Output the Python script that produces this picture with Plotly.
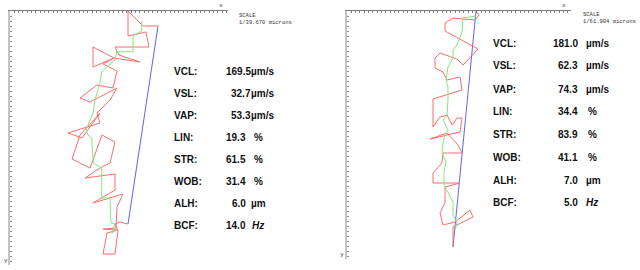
import plotly.graph_objects as go

# ---------------- data (track coordinates in panel units, y downward) ----------------
left_vcl_x = [148, 133, 118, 118, 136, 139, 105, 109, 130, 104, 83, 83, 104, 93, 107, 103, 87, 70, 80, 107,
              100, 87, 90, 58, 72, 90, 70, 62, 80, 92, 105, 100, 90, 75, 105, 105, 83, 113, 107, 106,
              93, 108, 97, 93, 105, 108, 105, 110, 118]
left_vcl_y = [15, 15, 0, 25, 21, 36, 36, 44, 51, 47, 36, 56, 47, 53, 60, 77, 74, 87, 91, 77,
              89, 102, 112, 122, 127, 102, 124, 148, 157, 124, 131, 152, 157, 167, 163, 179, 192, 183, 196, 217,
              218, 219, 222, 243, 243, 220, 213, 211, 213]
left_vap_x = [131.7, 131.7, 123, 123, 106.7, 105, 96.7, 91.7, 90, 85, 83, 76, 78, 81.7, 83.3, 91.7, 91.7, 100,
              101, 105, 101.7, 108]
left_vap_y = [10, 20, 25, 40.7, 40.7, 49, 56, 61, 72, 89, 102, 119, 124, 127, 152, 157, 187, 187,
              212, 213, 222, 218]
left_vsl_x = [148, 118]
left_vsl_y = [15, 213]

right_vcl_x = [129, 132, 128, 106, 98, 98, 109, 131, 116, 110, 93, 88, 88, 96, 100, 108, 113, 115, 86, 86,
               93, 100, 105, 110, 115, 113, 90, 83, 100, 111, 115, 96, 95, 86, 86, 113, 98, 98, 93, 96,
               108, 123, 126, 106, 106]
right_vcl_y = [0, 4, 9, 7, 12, 20, 26, 38, 54, 48, 42, 47, 57, 61, 69, 67, 66, 79, 88, 116,
               106, 104, 114, 107, 107, 121, 126, 128, 122, 134, 142, 142, 152, 162, 172, 172, 176, 192, 202, 214,
               211, 199, 206, 216, 236]
right_vap_x = [129, 116, 115, 110, 106, 106, 101, 99, 101, 101, 100, 96, 101, 98, 96, 95, 99, 97, 97, 101,
               106, 106, 110, 108]
right_vap_y = [5, 7, 21, 34, 39, 47, 56, 69, 76, 89, 104, 109, 119, 124, 132, 142, 151, 161, 174, 182,
               191, 204, 212, 219]
right_vsl_x = [129, 106]
right_vsl_y = [0, 236]

stat_labels = ["VCL:", "VSL:", "VAP:", "LIN:", "STR:", "WOB:", "ALH:", "BCF:"]
stat_units = ["µm/s", "µm/s", "µm/s", "%", "%", "%", "µm", "Hz"]
left_values = ["169.5", "32.7", "53.3", "19.3", "61.5", "31.4", "6.0", "14.0"]
right_values = ["181.0", "62.3", "74.3", "34.4", "83.9", "41.1", "7.0", "5.0"]
left_scale = "1/39.670 microns"
right_scale = "1/61.904 microns"

# ---------------- layout helpers ----------------
W, H = 640, 270
def px(x):
    return x / W
def py(y):
    return 1 - y / H

RED = "#ff6b6b"
GREEN = "#7ee87e"
BLUE = "#6262ee"

fig = go.Figure()
for xs, ys, col, xa, ya in [
    (left_vsl_x, left_vsl_y, BLUE, "x", "y"),
    (left_vcl_x, left_vcl_y, RED, "x", "y"),
    (left_vap_x, left_vap_y, GREEN, "x", "y"),
    (right_vsl_x, right_vsl_y, BLUE, "x2", "y2"),
    (right_vcl_x, right_vcl_y, RED, "x2", "y2"),
    (right_vap_x, right_vap_y, GREEN, "x2", "y2"),
]:
    fig.add_trace(go.Scatter(x=xs, y=ys, mode="lines", line=dict(color=col, width=1),
                             xaxis=xa, yaxis=ya, hoverinfo="skip", showlegend=False,
                             cliponaxis=False))

def xax(domain, rng):
    return dict(domain=domain, range=rng, side="top", showline=True, linecolor="#7a7a7a",
                linewidth=1, ticks="inside", ticklen=2, tickcolor="#7a7a7a", tick0=0,
                dtick=4.33, showticklabels=False, showgrid=False, zeroline=False, fixedrange=True)

def yax(domain, rng, anchor):
    return dict(domain=domain, range=rng, showline=True, linecolor="#c4c4c4", linewidth=2,
                ticks="inside", ticklen=2, tickcolor="#8a8a8a", tick0=0, dtick=5,
                showticklabels=False, showgrid=False, zeroline=False, anchor=anchor, fixedrange=True)

fig.update_layout(
    width=W, height=H, margin=dict(l=0, r=0, t=0, b=0),
    paper_bgcolor="white", plot_bgcolor="white",
    xaxis=xax([px(10), px(228)], [0, 218]) | dict(anchor="y"),
    yaxis=yax([py(265), py(11)], [254, 0], "x"),
    xaxis2=xax([px(347), px(571)], [0, 224]) | dict(anchor="y2"),
    yaxis2=yax([py(259), py(11)], [248, 0], "x2"),
)

ann = []
def add(text, x, y, xanchor="left", size=10, family="Liberation Sans", color="#111", bold=False, italic=False):
    t = text
    if bold:
        t = "<b>" + t + "</b>"
    if italic:
        t = "<i>" + t + "</i>"
    ann.append(dict(text=t, x=px(x), y=py(y), xref="paper", yref="paper", xanchor=xanchor,
                    yanchor="middle", showarrow=False, borderpad=0, borderwidth=0,
                    font=dict(size=size, family=family, color=color)))

NARROW = "Liberation Sans Narrow, Liberation Sans, Arial"
# left stats
left_rows = [71, 93, 115, 137, 159.3, 181.3, 203.7, 225]
for i, yy in enumerate(left_rows):
    add(stat_labels[i], 174, yy, bold=True, family=NARROW)
    unit = stat_units[i]
    if unit == "µm/s":
        add(left_values[i], 251, yy, xanchor="right", bold=True)
        add(unit, 251, yy, bold=True, family=NARROW)
    elif unit == "%":
        add(left_values[i], 245.5, yy, xanchor="right", bold=True)
        add(unit, 254, yy, bold=True)
    elif unit == "µm":
        add(left_values[i], 245.5, yy, xanchor="right", bold=True)
        add(unit, 250.7, yy, bold=True, family=NARROW)
    else:
        add(left_values[i], 245.5, yy, xanchor="right", bold=True)
        add(unit, 252, yy, bold=True, italic=True)

right_rows = [43.3, 65.7, 89, 111.7, 134.5, 157.3, 180, 202.7]
for i, yy in enumerate(right_rows):
    add(stat_labels[i], 492.7, yy, bold=True, family=NARROW)
    add(right_values[i], 577.5, yy, xanchor="right", bold=True)
    unit = stat_units[i]
    if unit == "%":
        add(unit, 587.7, yy, bold=True)
    elif unit == "Hz":
        add(unit, 586, yy, bold=True, italic=True)
    else:
        add(unit, 585.5, yy, bold=True, family=NARROW)

MONO = "Liberation Mono, DejaVu Sans Mono"
add("SCALE", 239, 15, size=5.5, family=MONO, color="#333")
add(left_scale, 239, 22, size=5.5, family=MONO, color="#333")
add("SCALE", 583.3, 14.7, size=5.5, family=MONO, color="#333")
add(right_scale, 583.3, 21.3, size=5.5, family=MONO, color="#333")
add("x", 221, 5.5, xanchor="center", size=6, family=MONO, color="#333")
add("y", 6, 260.5, xanchor="center", size=6, family=MONO, color="#333")
add("x", 564.3, 5.5, xanchor="center", size=6, family=MONO, color="#333")
add("y", 342, 254, xanchor="center", size=6, family=MONO, color="#333")

fig.update_layout(annotations=ann)
fig.write_html("out.html")
